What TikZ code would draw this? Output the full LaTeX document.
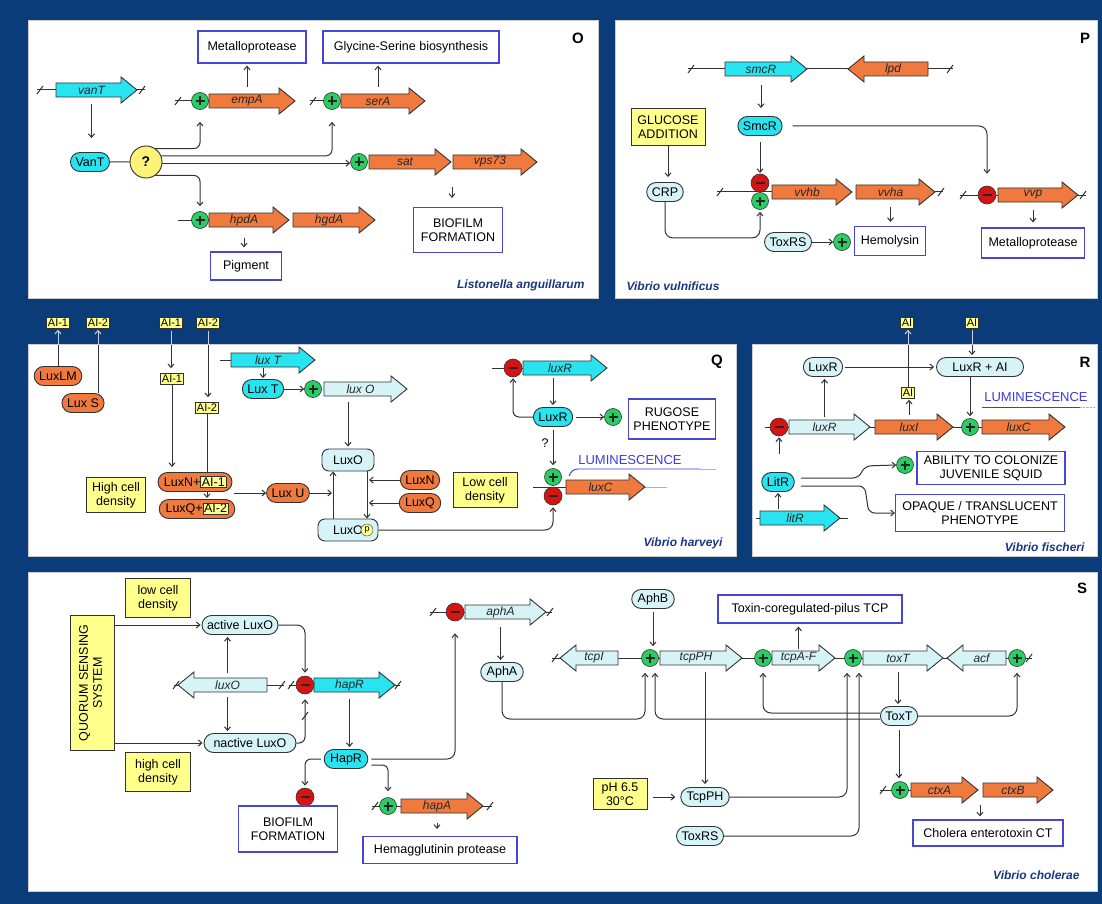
\documentclass[tikz,border=0pt]{standalone}
\usepackage{fontspec}
\usepackage{graphicx}
\setmainfont{Liberation Sans}
\usetikzlibrary{shapes.misc,arrows.meta,calc}
\definecolor{bg}{RGB}{10,60,122}
\definecolor{gorange}{RGB}{240,122,62}
\definecolor{gcyan}{RGB}{40,228,240}
\definecolor{glight}{RGB}{214,244,248}
\definecolor{yel}{RGB}{255,255,140}
\definecolor{qyel}{RGB}{255,242,120}
\definecolor{pgreen}{RGB}{40,205,100}
\definecolor{mred}{RGB}{215,20,20}
\definecolor{obox}{RGB}{70,70,210}
\definecolor{spc}{RGB}{25,55,130}
\definecolor{lum}{RGB}{60,60,220}
\definecolor{ln}{RGB}{50,50,50}
\definecolor{lightln}{RGB}{200,210,228}
\setlength\fboxsep{1pt}
\tikzset{
 panel/.style={fill=white, draw=gray!40, line width=0.6pt},
 dna/.style={draw=ln, line width=1pt},
 arr/.style={draw=ln, line width=1pt, -{Straight Barb[length=3.5pt,width=6pt]}},
 arrl/.style={draw=lightln, line width=1pt, -{Straight Barb[length=3.5pt,width=6pt]}},
 lnl/.style={draw=lightln, line width=1pt},
 genepath/.style={draw=ln, line width=0.9pt},
 genelbl/.style={font=\itshape\fontsize{12}{13}\selectfont, inner sep=0pt, minimum height=14pt, text=black!85},
 prot/.style={rounded rectangle, draw=ln, line width=0.9pt, inner xsep=4pt, inner ysep=2pt, minimum height=19pt},
 pcy/.style={prot, fill=gcyan},
 plt/.style={prot, fill=glight},
 por/.style={prot, fill=gorange},
 prr/.style={rectangle, rounded corners=7pt, draw=ln, line width=0.9pt, fill=glight, minimum height=22pt, inner xsep=5pt},
 outbox/.style={draw=obox, line width=1.2pt, fill=white, inner sep=2pt, align=center},
 yb/.style={draw=ln, line width=0.9pt, fill=yel, inner sep=2pt, align=center},
 aib/.style={yb, inner sep=1.5pt, font=\fontsize{11}{11}\selectfont},
 qc/.style={circle, draw=ln, line width=0.9pt, fill=qyel, minimum size=32pt, inner sep=0pt, font=\fontsize{14}{14}\selectfont\bfseries},
 plusn/.style={circle, draw=ln, line width=0.6pt, fill=pgreen, minimum size=17pt, inner sep=0pt,
   path picture={\draw[line width=1.8pt,black!85] ([xshift=-4.5pt]path picture bounding box.center) -- ([xshift=4.5pt]path picture bounding box.center) ([yshift=-4.5pt]path picture bounding box.center) -- ([yshift=4.5pt]path picture bounding box.center);}},
 minusn/.style={circle, draw=ln, line width=0.6pt, fill=mred, minimum size=18pt, inner sep=0pt,
   path picture={\draw[line width=1.8pt,black!85] ([xshift=-4.5pt]path picture bounding box.center) -- ([xshift=4.5pt]path picture bounding box.center);}},
 species/.style={font=\fontsize{12}{13}\selectfont\bfseries\itshape, text=spc},
 plab/.style={font=\fontsize{15}{16}\selectfont\bfseries},
 lumt/.style={text=lum, font=\fontsize{13}{14}\selectfont},
}
\newcommand\geneR[6]{%
  \path[genepath,fill=#5] (#2,#4-7) -- (#3-16,#4-7) -- (#3-16,#4-13) -- (#3,#4) -- (#3-16,#4+13) -- (#3-16,#4+7) -- (#2,#4+7) -- cycle;
  \node[genelbl,minimum width={#3-#2-20}] (#1) at ({(#2+#3-10)/2},#4) {#6};}
\newcommand\geneL[6]{%
  \path[genepath,fill=#5] (#3,#4-7) -- (#2+16,#4-7) -- (#2+16,#4-13) -- (#2,#4) -- (#2+16,#4+13) -- (#2+16,#4+7) -- (#3,#4+7) -- cycle;
  \node[genelbl,minimum width={#3-#2-20}] (#1) at ({(#2+#3+10)/2},#4) {#6};}
\newcommand\brkmark[2]{\draw[dna] (#1-3,#2+4) -- (#1+3,#2-4);}
\begin{document}
\begin{tikzpicture}[x=1pt,y=-1pt,font=\fontsize{12.5}{14}\selectfont]
\useasboundingbox (0,0) rectangle (1102,904);
\fill[bg] (0,0) rectangle (1102,904);
\path[panel] (28,20) rectangle (598,298);
\path[panel] (615,20) rectangle (1097,298);
\path[panel] (28,344) rectangle (736,556);
\path[panel] (752,344) rectangle (1097,556);
\path[panel] (28,572) rectangle (1097,891);
\coordinate (Qtop) at (0,344.5);
\coordinate (ylo) at (0,719);

%%%%%%%%%% O
\draw[dna] (37,90) -- (145,90); \brkmark{40}{90} \brkmark{142}{90}
\geneR{vanT}{56}{137}{90}{gcyan}{vanT}
\node[pcy] (VanT) at (90,162) {VanT};
\draw[arr, shorten <=7pt, shorten >=14pt] (vanT.south) -- (vanT.south |- VanT.north);
\node[qc] (QM) at (146,162) {?};
\draw[dna] (VanT) -- (QM);
\draw[dna] (175,101) -- (209,101); \brkmark{178}{101}
\geneR{empA}{209}{295}{101}{gorange}{empA}
\node[plusn] (pE) at (200,101) {};
\node[outbox, minimum width=108pt, minimum height=32pt] (MetO) at (252,47) {Metalloprotease};
\draw[arr, shorten <=7pt, shorten >=2pt] (empA.north) -- (empA.north |- MetO.south);
\draw[dna] (310,101) -- (341,101); \brkmark{313}{101}
\geneR{serA}{341}{425}{101}{gorange}{serA}
\node[plusn] (pS) at (332,101) {};
\node[outbox, minimum width=176pt, minimum height=32pt] (GlyO) at (411,47) {Glycine-Serine biosynthesis};
\draw[arr, shorten <=7pt, shorten >=2pt] (serA.north) -- (serA.north |- GlyO.south);
\geneR{sat}{369}{451}{162}{gorange}{sat}
\geneR{vps}{453}{537}{162}{gorange}{vps73}
\node[plusn] (pSat) at (359,162) {};
\coordinate (satv) at (452,162);
\node[outbox, minimum width=89pt, minimum height=45pt] (BioO) at (458,230) {BIOFILM\\FORMATION};
\draw[arr, shorten <=25pt, shorten >=9pt] (satv) -- (satv |- BioO.north);
\draw[dna] (178,220) -- (209,220);
\geneR{hpdA}{209}{289}{220}{gorange}{hpdA}
\geneR{hgdA}{293}{375}{220}{gorange}{hgdA}
\node[plusn] (pH) at (200,220) {};
\node[outbox, minimum width=71pt, minimum height=28pt] (PigO) at (246,266) {Pigment};
\draw[arr, shorten <=11pt, shorten >=4pt] (hpdA.south) -- (hpdA.south |- PigO.north);
\draw[arr, rounded corners=6pt, shorten >=12pt] (QM.55) -- (QM.55 -| pE.south) -- (pE.south);
\draw[arr, rounded corners=6pt, shorten >=12pt] (QM.22) -- (QM.22 -| pS.south) -- (pS.south);
\draw[arr] (QM.-4) -- (QM.-4 -| pSat.west);
\draw[arr, rounded corners=6pt, shorten >=5pt] (QM.-55) -- (QM.-55 -| pH.north) -- (pH.north);
\node[plab] at (578,38) {O};
\node[species, anchor=east] at (588,285) {Listonella anguillarum};

%%%%%%%%%% P
\draw[dna] (688,69) -- (953,69); \brkmark{691}{69} \brkmark{950}{69}
\geneR{smcR}{725}{807}{69}{gcyan}{smcR}
\geneL{lpd}{848}{928}{69}{gorange}{lpd}
\node[pcy] (SmcR) at (760,126) {SmcR};
\draw[arr, shorten <=9pt, shorten >=8pt] (smcR.south) -- (smcR.south |- SmcR.north);
\node[yb, minimum width=74pt, minimum height=37pt] (Glu) at (668,127) {GLUCOSE\\ADDITION};
\node[plt] (CRP) at (665,192) {CRP};
\draw[arr, shorten >=5pt] (Glu.south) -- (Glu.south |- CRP.north);
\draw[dna] (717,192) -- (772,192); \brkmark{720}{192}
\geneR{vvhb}{772}{852}{192}{gorange}{vvhb}
\geneR{vvha}{856}{935}{192}{gorange}{vvha}
\draw[dna] (935,192) -- (943,192); \brkmark{941}{192}
\draw[arr, shorten <=6pt, shorten >=1pt] (SmcR.south) -- (SmcR.south |- 0,174);
\node[minusn] (mV) at (760,183) {};
\node[plusn] (pV) at (760,201) {};
\draw[dna] (960,195) -- (1086,195); \brkmark{963}{195} \brkmark{1083}{195}
\geneR{vvp}{998}{1078}{195}{gorange}{vvp}
\node[minusn] (mVp) at (987,195) {};
\draw[arr, rounded corners=8pt, shorten <=10pt, shorten >=12pt] (SmcR.east) -- (SmcR.east -| mVp.north) -- (mVp.north);
\draw[arr, rounded corners=8pt, shorten >=2pt] (CRP.south) -- ++(0,36) -| (pV.south);
\node[plt] (ToxRSv) at (788,242) {ToxRS};
\node[plusn] (pTx) at (842,242) {};
\draw[arr] (ToxRSv.east) -- (pTx.west);
\node[outbox, minimum width=71pt, minimum height=29pt] (Hem) at (890,241) {Hemolysin};
\draw[arr, shorten <=8pt, shorten >=4pt] (vvha.south) -- (vvha.south |- Hem.north);
\node[outbox, minimum width=103pt, minimum height=30pt] (MetP) at (1033,243) {Metalloprotease};
\draw[arr, shorten <=8pt, shorten >=5pt] (vvp.south) -- (vvp.south |- MetP.north);
\node[plab] at (1085,38) {P};
\node[species, anchor=west] at (623,286) {Vibrio vulnificus};

%%%%%%%%%% Q
\node[aib] (a1) at (58,323) {AI-1};
\node[aib] (a2) at (98,323) {AI-2};
\node[aib] (a3) at (171,323) {AI-1};
\node[aib] (a4) at (208,323) {AI-2};
\node[por] (LuxLM) at (58,376) {LuxLM};
\node[por] (LuxS) at (83,403) {Lux S};
\draw[arrl, shorten >=1pt] (LuxLM.north) -- (a1.south);
\draw[dna] (LuxLM.north) -- (LuxLM.north |- Qtop);
\draw[arrl, shorten >=1pt] (a2.south |- LuxS.north) -- (a2.south);
\draw[dna] (a2.south |- LuxS.north) -- (a2.south |- Qtop);
\node[aib] (a5) at (172,379) {AI-1};
\draw[arr, shorten <=2pt, shorten >=5pt] (a3.south) -- (a3.south |- a5.north);
\draw[lnl, shorten <=2pt] (a3.south) -- (a3.south |- Qtop);
\node[aib] (a6) at (207,408) {AI-2};
\draw[arr, shorten <=2pt, shorten >=5pt] (a4.south) -- (a4.south |- a6.north);
\draw[lnl, shorten <=2pt] (a4.south) -- (a4.south |- Qtop);
\coordinate (lqtop) at (0,499);
\draw[arr, shorten >=1pt] (a6.south) -- (a6.south |- lqtop);
\draw[arr, shorten >=5pt] (a5.south) -- (a5.south |- 0,472);
\node[por] (LNA) at (195,482) {LuxN+\fcolorbox{ln}{yel}{AI-1}};
\node[por] (LQA) at (197,509) {LuxQ+\fcolorbox{ln}{yel}{AI-2}};
\node[yb, minimum width=59pt, minimum height=35pt] (HCD) at (116,495) {High cell\\density};
\node[por] (LuxU) at (288,493) {Lux U};
\draw[arr, shorten <=2pt] (LNA.east |- LuxU) -- (LuxU.west);
\draw[dna] (220,360) -- (231,360);
\geneR{luxT}{231}{315}{360}{gcyan}{lux T}
\node[pcy] (LuxT) at (263,389) {Lux T};
\draw[arr, shorten <=1pt, shorten >=1pt] (LuxT.north |- luxT.south) -- (LuxT.north);
\geneR{luxO}{324}{407}{389}{glight}{lux O}
\node[plusn] (pQ1) at (313,389) {};
\draw[arr] (LuxT.east) -- (pQ1.west);
\node[prr, minimum width=52pt] (LuxO) at (348,460) {LuxO};
\draw[arr, shorten <=6pt, shorten >=2pt] (LuxO.north |- luxO.south) -- (LuxO.north);
\node[prr, minimum width=60pt] (LuxOp) at (348,530) {LuxO\hspace{15pt}};
\node[circle, draw=ln, fill=yel, inner sep=0pt, minimum size=12pt, font=\fontsize{9}{9}\selectfont] (pp) at (367,530) {p};
\coordinate (xup) at (333,0);
\coordinate (xdn) at (367,0);
\draw[arr] (LuxOp.north -| xup) -- (LuxO.south -| xup);
\draw[arr] (LuxO.south -| xdn) -- (LuxOp.north -| xdn);
\draw[arr, shorten >=1pt] (LuxU.east) -- (LuxU.east -| xup);
\node[por] (LuxN) at (420,480) {LuxN};
\node[por] (LuxQ) at (420,503) {LuxQ};
\draw[arr, shorten >=2pt] (LuxN.west) -- (LuxN.west -| xdn);
\draw[arr, shorten >=2pt] (LuxQ.west) -- (LuxQ.west -| xdn);
\node[yb, minimum width=64pt, minimum height=35pt] (LCD) at (485,490) {Low cell\\density};
\draw[dna] (492,368) -- (523,368);
\geneR{luxR}{523}{607}{368}{gcyan}{luxR}
\node[minusn] (mQr) at (513,368) {};
\node[pcy] (LuxR) at (553,417) {LuxR};
\draw[arr, shorten <=3pt, shorten >=2pt] (LuxR.north |- luxR.south) -- (LuxR.north);
\draw[arr, rounded corners=6pt, shorten >=1pt] (LuxR.west) -| (mQr.south);
\node[plusn] (pQr) at (613,417) {};
\draw[arr, shorten <=3pt] (LuxR.east) -- (pQr.west);
\node[outbox, minimum width=87pt, minimum height=40pt] (Rug) at (672,419) {RUGOSE\\PHENOTYPE};
\draw[dna] (533,487) -- (566,487);
\draw[gray!60, line width=0.6pt] (645,487) -- (667,487);
\geneR{luxC}{566}{645}{487}{gorange}{luxC}
\node[plusn] (pQc) at (553,477) {};
\node[minusn] (mQc) at (553,496) {};
\draw[arr, shorten <=3pt, shorten >=3pt] (LuxR.south) -- (pQc.north);
\node at (545,443) {?};
\draw[arr, rounded corners=8pt, shorten >=2pt] (LuxOp.east) -| (mQc.south);
\node[lumt] (LumQ) at (630,460) {LUMINESCENCE};
\draw[lum, line width=0.9pt] (569,476) to[out=70,in=180] (578,469) -- (700,469);
\draw[gray!60, line width=0.6pt] (700,469) -- (716,469);
\node[plab] at (717,362) {Q};
\node[species, anchor=east] at (726,543) {Vibrio harveyi};

%%%%%%%%%% R
\node[aib] (r1) at (907,323) {AI};
\node[aib] (r2) at (972,323) {AI};
\node[plt] (LuxRf) at (823,367) {LuxR};
\node[plt, minimum width=95pt] (LuxRAI) at (980,367) {LuxR + AI};
\node[aib] (r3) at (908,393) {AI};
\draw[arrl, shorten >=1pt] (r3.north) -- (r3.north |- r1.south);
\draw[dna] (r3.north) -- (r3.north |- Qtop);
\draw[arr, shorten <=2pt, shorten >=2pt] (LuxRf.east) -- (LuxRAI.west);
\draw[arr, shorten <=1pt, shorten >=2pt] (r2.south) -- (r2.south |- LuxRAI.north);
\draw[lnl, shorten <=1pt] (r2.south) -- (r2.south |- Qtop);
\draw[dna] (765,427) -- (982,427);
\geneR{luxRg}{789}{870}{427}{glight}{luxR}
\geneR{luxI}{875}{953}{427}{gorange}{luxI}
\geneR{luxCf}{982}{1065}{427}{gorange}{luxC}
\node[minusn] (mR) at (779,427) {};
\node[plusn] (pR) at (970,427) {};
\draw[arr, shorten <=3pt, shorten >=2pt] (luxRg.north) -- (luxRg.north |- LuxRf.south);
\draw[arr, shorten <=5pt, shorten >=1pt] (luxI.north) -- (luxI.north |- r3.south);
\draw[arr, shorten >=2pt] (pR.north |- LuxRAI.south) -- (pR.north);
\node[lumt] at (1036,397) {LUMINESCENCE};
\draw[lum, line width=0.9pt] (982,407) -- (1080,407);
\draw[gray!60, densely dotted] (1080,407) -- (1095,407);
\node[pcy] (LitR) at (778,482) {LitR};
\draw[dna] (756,518) -- (848,518);
\geneR{litR}{760}{840}{518}{gcyan}{litR}
\draw[arr, shorten <=2pt, shorten >=1pt] (LitR.south |- litR.north) -- (LitR.south);
\draw[arr, shorten <=18pt, shorten >=1pt] (mR.south |- LitR.north) -- (mR.south);
\node[plusn] (pR2) at (905,465) {};
\node[outbox, minimum width=148pt, minimum height=33pt] (Abil) at (991,468) {ABILITY TO COLONIZE\\JUVENILE SQUID};
\node[outbox, minimum width=169pt, minimum height=37pt] (Opq) at (980,513) {OPAQUE / TRANSLUCENT\\PHENOTYPE};
\draw[arr, rounded corners=6pt, shorten <=6pt] ([yshift=4pt]LitR.east) -- ++(64,0) -- ++(6,-12) -- (pR2.west);
\draw[arr, rounded corners=6pt, shorten <=6pt] ([yshift=-4pt]LitR.east) -- ++(70,0) -- ++(4,27) -- (Opq.west);
\node[plab] at (1085,362) {R};
\node[species, anchor=east] at (1088,547) {Vibrio fischeri};

%%%%%%%%%% S
\node[yb, minimum width=65pt, minimum height=39pt] (LCDs) at (158,598) {low cell\\density};
\node[yb, minimum width=44pt, minimum height=135pt] (QSS) at (92,683) {\rotatebox{90}{\begin{tabular}{@{}c@{}}QUORUM SENSING\\SYSTEM\end{tabular}}};
\node[yb, minimum width=65pt, minimum height=39pt] (HCDs) at (158,772) {high cell\\density};
\node[plt, minimum width=84pt] (aLuxO) at (240,625) {active LuxO};
\node[plt, minimum width=100pt] (nLuxO) at (250,743) {nactive LuxO};
\draw[arr, shorten >=1pt] (QSS.east |- aLuxO) -- (aLuxO.west);
\draw[arr, shorten >=1pt] (QSS.east |- nLuxO) -- (nLuxO.west);
\draw[dna] (174,685) -- (180,685); \brkmark{176}{685}
\geneL{luxOg}{178}{267}{685}{glight}{luxO}
\draw[dna] (267,685) -- (284,685); \brkmark{282}{685}
\draw[dna] (289,685) -- (305,685); \brkmark{291}{685}
\draw[arr, shorten <=5pt, shorten >=2pt] (luxOg.north) -- (luxOg.north |- aLuxO.south);
\draw[arr, shorten <=5pt, shorten >=2pt] (luxOg.south) -- (luxOg.south |- nLuxO.north);
\geneR{hapR}{314}{395}{685}{gcyan}{hapR}
\draw[dna] (395,685) -- (400,685); \brkmark{398}{685}
\node[minusn] (mS) at (305,685) {};
\draw[arr, rounded corners=8pt, shorten >=3pt] (aLuxO.east) -| (mS.north);
\draw[arr, rounded corners=6pt, shorten >=5pt] (nLuxO.east) -| (mS.south);
\brkmark{305}{716}
\node[pcy] (HapR) at (346,759) {HapR};
\draw[arr, shorten <=7pt, shorten >=2pt] (hapR.south) -- (hapR.south |- HapR.north);
\node[minusn] (mS2) at (305,797) {};
\draw[arr, rounded corners=6pt, shorten <=3pt, shorten >=2pt] (HapR.west) -| (mS2.north);
\node[outbox, minimum width=99pt, minimum height=46pt] (BioS) at (288,829) {BIOFILM\\FORMATION};
\draw[dna] (430,612) -- (465,612); \brkmark{433}{612}
\geneR{aphA}{465}{546}{612}{glight}{aphA}
\draw[dna] (546,612) -- (552,612); \brkmark{550}{612}
\node[minusn] (mA) at (455,612) {};
\draw[arr, rounded corners=8pt, shorten <=3pt, shorten >=12pt] (HapR.east) -| (mA.south);
\node[plt] (AphA) at (502,672) {AphA};
\draw[arr, shorten <=8pt, shorten >=2pt] (aphA.south) -- (aphA.south |- AphA.north);
\draw[dna] (372,806) -- (401,806); \brkmark{375}{806}
\geneR{hapA}{401}{483}{806}{gorange}{hapA}
\draw[dna] (483,806) -- (492,806); \brkmark{490}{806}
\node[plusn] (pHa) at (388,806) {};
\draw[arr, rounded corners=5pt, shorten <=3pt, shorten >=6pt] ([yshift=-6pt]HapR.east) -| (pHa.north);
\node[outbox, minimum width=154pt, minimum height=27pt] (Hemag) at (440,850) {Hemagglutinin protease};
\draw[arr, shorten <=10pt, shorten >=7pt] (hapA.south) -- (hapA.south |- Hemag.north);
\draw[dna] (552,658) -- (1032,658); \brkmark{555}{658} \brkmark{1029}{658}
\geneL{tcpI}{560}{618}{658}{glight}{tcpI}
\geneR{tcpPH}{660}{742}{658}{glight}{tcpPH}
\geneR{tcpAF}{772}{835}{658}{glight}{tcpA-F}
\geneR{toxT}{863}{943}{658}{glight}{toxT}
\geneL{acf}{947}{1006}{658}{glight}{acf}
\node[plusn] (pT1) at (650,658) {};
\node[plusn] (pT2) at (763,658) {};
\node[plusn] (pT3) at (853,658) {};
\node[plusn] (pT4) at (1017,658) {};
\coordinate (pT1l) at ([xshift=-5pt]pT1.south);
\coordinate (pT1r) at ([xshift=5pt]pT1.south);
\coordinate (pT3l) at ([xshift=-6pt]pT3.south);
\coordinate (pT3r) at ([xshift=6pt]pT3.south);
\node[plt] (AphB) at (653,599) {AphB};
\draw[arr, shorten <=3pt, shorten >=3pt] (AphB.south) -- (AphB.south |- pT1.north);
\node[outbox, minimum width=184pt, minimum height=28pt] (TCP) at (810,609) {Toxin-coregulated-pilus TCP};
\draw[arr, shorten <=2pt, shorten >=3pt] (tcpAF.north) -- (tcpAF.north |- TCP.south);
\node[plt] (ToxT) at (899,716) {ToxT};
\draw[arr, shorten <=7pt, shorten >=2pt] (toxT.south) -- (toxT.south |- ToxT.north);
\node[plt] (TcpPH) at (705,797) {TcpPH};
\draw[arr, rounded corners=8pt, shorten >=6pt] (AphA.south) |- (pT1l |- ylo) -- (pT1l);
\draw[arr, rounded corners=8pt, shorten >=6pt] ([yshift=-3pt]ToxT.west) -| (pT1r);
\draw[arr, rounded corners=8pt, shorten >=6pt] ([yshift=3pt]ToxT.west) -| (pT2.south);
\draw[arr, shorten <=7pt, shorten >=3pt] (TcpPH.north |- tcpPH.south) -- (TcpPH.north);
\node[yb, minimum width=54pt, minimum height=31pt] (pHb) at (620,794) {pH 6.5\\30°C};
\draw[arr, shorten <=6pt, shorten >=5pt] (pHb.east |- TcpPH) -- (TcpPH.west);
\node[plt] (ToxRS) at (700,836) {ToxRS};
\draw[arr, rounded corners=8pt, shorten >=6pt] (TcpPH.east) -| (pT3l);
\draw[arr, rounded corners=8pt, shorten >=6pt] (ToxRS.east) -| (pT3r);
\draw[arr, rounded corners=8pt, shorten >=6pt] (ToxT.east) -| (pT4.south);
\draw[dna] (880,790) -- (911,790); \brkmark{883}{790}
\geneR{ctxA}{911}{978}{790}{gorange}{ctxA}
\geneR{ctxB}{983}{1053}{790}{gorange}{ctxB}
\node[plusn] (pC) at (900,790) {};
\draw[arr, shorten <=4pt, shorten >=3pt] (ToxT.south) -- (ToxT.south |- pC.north);
\coordinate (cjx) at (980,790);
\node[outbox, minimum width=150pt, minimum height=26pt] (CT) at (988,833) {Cholera enterotoxin CT};
\draw[arr, shorten <=15pt, shorten >=3pt] (cjx) -- (cjx |- CT.north);
\node[plab] at (1082,588) {S};
\node[species, anchor=east] at (1083,875) {Vibrio cholerae};
\end{tikzpicture}
\end{document}
